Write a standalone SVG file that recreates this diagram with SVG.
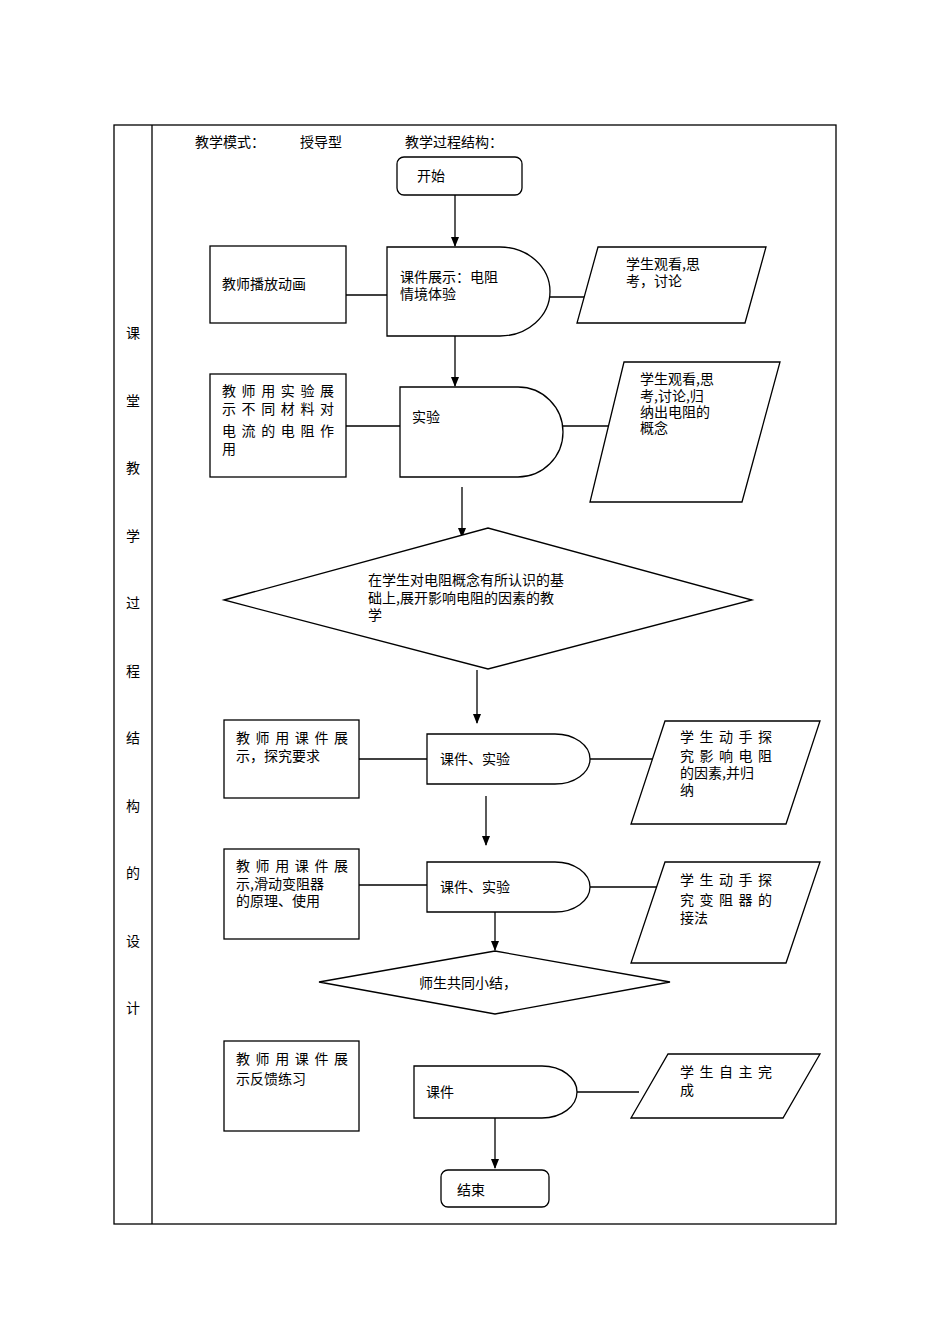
<svg xmlns="http://www.w3.org/2000/svg" width="950" height="1344" viewBox="0 0 950 1344">
<defs><marker id="a" markerWidth="10" markerHeight="10" refX="9" refY="5" orient="auto" markerUnits="userSpaceOnUse"><path d="M0,1 L10,5 L0,9 Z" fill="#000"/></marker></defs>
<style>
.s{fill:#fff;stroke:#000;stroke-width:1.3}
.l{stroke:#000;stroke-width:1.3;fill:none}
.ar{stroke:#000;stroke-width:1.3;marker-end:url(#a)}
text{font-family:"Noto Sans CJK SC","Liberation Sans",sans-serif;font-size:14px;fill:#000}
</style>
<rect width="950" height="1344" fill="#fff"/>
<g id="frame">
<rect x="114" y="125" width="722" height="1099" class="l"/>
<line x1="152" y1="125" x2="152" y2="1224" class="l"/>
<g text-anchor="middle">
<text x="133" y="338">课</text><text x="133" y="406">堂</text><text x="133" y="473">教</text><text x="133" y="541">学</text><text x="133" y="608">过</text><text x="133" y="676">程</text><text x="133" y="743">结</text><text x="133" y="811">构</text><text x="133" y="878">的</text><text x="133" y="946">设</text><text x="133" y="1013">计</text>
</g>
<text x="195" y="147">教学模式：</text><text x="300" y="147">授导型</text><text x="405" y="147">教学过程结构：</text>
</g>
<g id="connectors">
<line x1="455" y1="195" x2="455" y2="246" class="ar"/>
<line x1="346" y1="295" x2="387" y2="295" class="l"/>
<line x1="550" y1="297" x2="590" y2="297" class="l"/>
<line x1="455" y1="336" x2="455" y2="386" class="ar"/>
<line x1="346" y1="426" x2="400" y2="426" class="l"/>
<line x1="563" y1="426" x2="616" y2="426" class="l"/>
<line x1="462" y1="487" x2="462" y2="537" class="ar"/>
<line x1="477" y1="670" x2="477" y2="723" class="ar"/>
<line x1="359" y1="759" x2="427" y2="759" class="l"/>
<line x1="590" y1="759" x2="659" y2="759" class="l"/>
<line x1="486" y1="796" x2="486" y2="845" class="ar"/>
<line x1="359" y1="885" x2="427" y2="885" class="l"/>
<line x1="590" y1="887" x2="659" y2="887" class="l"/>
<line x1="495" y1="912" x2="495" y2="950" class="ar"/>
<line x1="577" y1="1092" x2="639" y2="1092" class="l"/>
<line x1="495" y1="1118" x2="495" y2="1168" class="ar"/>
</g>
<g id="start"><rect x="397" y="157" width="125" height="38" rx="7" class="s"/><text x="417" y="181">开始</text></g>
<g id="t1"><rect x="210" y="246" width="136" height="77" class="s"/><text x="222" y="289">教师播放动画</text></g>
<g id="c1"><path d="M387,247 H500 A50,44.5 0 0 1 500,336 H387 Z" class="s"/><text x="400" y="282">课件展示：电阻</text><text x="400" y="299">情境体验</text></g>
<g id="s1"><polygon points="598,247 766,247 745,323 577,323" class="s"/><text x="626" y="269">学生观看,思</text><text x="626" y="286">考，讨论</text></g>
<g id="t2"><rect x="210" y="374" width="136" height="103" class="s"/><text x="222" y="396" textLength="112">教师用实验展</text><text x="222" y="414" textLength="112">示不同材料对</text><text x="222" y="436" textLength="112">电流的电阻作</text><text x="222" y="454">用</text></g>
<g id="c2"><path d="M400,387 H518 A45,45 0 0 1 518,477 H400 Z" class="s"/><text x="412" y="422">实验</text></g>
<g id="s2"><polygon points="624,362 780,362 742,502 590,502" class="s"/><text x="640" y="384">学生观看,思</text><text x="640" y="401">考,讨论,归</text><text x="640" y="417">纳出电阻的</text><text x="640" y="433">概念</text></g>
<g id="d1"><polygon points="224,600 488,528 752,600 488,669" class="s"/><text x="368" y="585">在学生对电阻概念有所认识的基</text><text x="368" y="603">础上,展开影响电阻的因素的教</text><text x="368" y="620">学</text></g>
<g id="t3"><rect x="224" y="720" width="135" height="78" class="s"/><text x="236" y="743" textLength="112">教师用课件展</text><text x="236" y="761">示，探究要求</text></g>
<g id="c3"><path d="M427,734 H555 A35,25 0 0 1 555,784 H427 Z" class="s"/><text x="440" y="764">课件、实验</text></g>
<g id="s3"><polygon points="665,721 820,721 786,824 631,824" class="s"/><text x="680" y="742" textLength="92">学生动手探</text><text x="680" y="761" textLength="92">究影响电阻</text><text x="680" y="778">的因素,并归</text><text x="680" y="795">纳</text></g>
<g id="t4"><rect x="224" y="849" width="135" height="90" class="s"/><text x="236" y="871" textLength="112">教师用课件展</text><text x="236" y="889">示,滑动变阻器</text><text x="236" y="906">的原理、使用</text></g>
<g id="c4"><path d="M427,862 H555 A35,25 0 0 1 555,912 H427 Z" class="s"/><text x="440" y="892">课件、实验</text></g>
<g id="s4"><polygon points="665,862 820,862 786,963 631,963" class="s"/><text x="680" y="885" textLength="92">学生动手探</text><text x="680" y="905" textLength="92">究变阻器的</text><text x="680" y="923">接法</text></g>
<g id="d2"><polygon points="319,982 495,951 670,982 495,1014" class="s"/><text x="419" y="988">师生共同小结，</text></g>
<g id="t5"><rect x="224" y="1041" width="135" height="90" class="s"/><text x="236" y="1064" textLength="112">教师用课件展</text><text x="236" y="1084">示反馈练习</text></g>
<g id="c5"><path d="M414,1066 H542 A35,26 0 0 1 542,1118 H414 Z" class="s"/><text x="426" y="1097">课件</text></g>
<g id="s5"><polygon points="668,1054 820,1054 783,1118 631,1118" class="s"/><text x="680" y="1077" textLength="92">学生自主完</text><text x="680" y="1095">成</text></g>
<g id="end"><rect x="441" y="1170" width="108" height="37" rx="7" class="s"/><text x="457" y="1195">结束</text></g>
</svg>
